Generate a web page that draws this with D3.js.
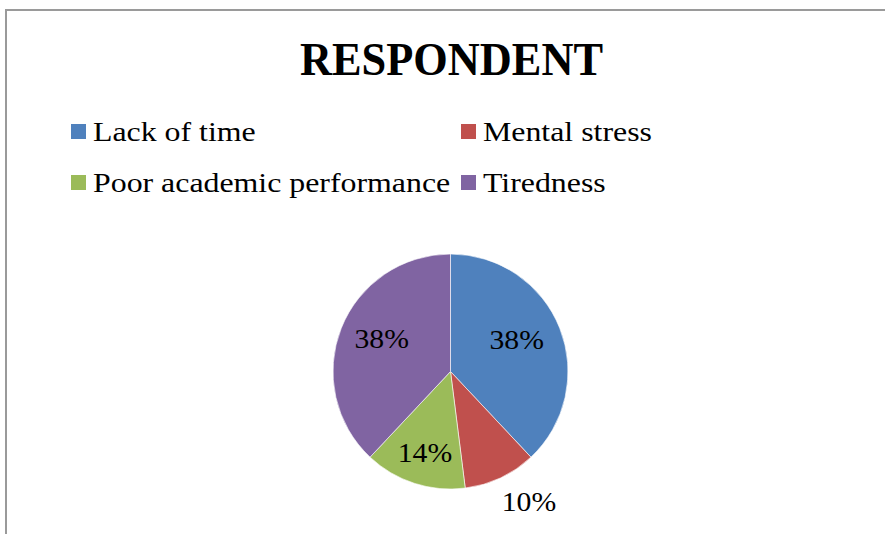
<!DOCTYPE html>
<html>
<head>
<meta charset="utf-8">
<script src="https://cdn.jsdelivr.net/npm/d3@7"></script>
<style>
  body { margin: 0; background: #fff; }
  svg { display: block; }
  text { font-family: "Liberation Serif", "Times New Roman", serif; fill: #000; }
</style>
</head>
<body>
<div id="chart"></div>
<script>
// data
const categories = ["Lack of time", "Mental stress", "Poor academic performance", "Tiredness"];
const values = [38, 10, 14, 38];
const colors = ["#4F81BD", "#C0504D", "#9BBB59", "#8064A2"];

const width = 885;
const height = 534;

const svg = d3.select("#chart")
  .append("svg")
  .attr("width", width)
  .attr("height", height);

// chart border (runs off the right/bottom edge)
svg.append("rect")
  .attr("x", 6)
  .attr("y", 10)
  .attr("width", width + 20)
  .attr("height", height + 20)
  .attr("fill", "none")
  .attr("stroke", "#9a9a9a")
  .attr("stroke-width", 2);

// title
svg.append("text")
  .attr("x", 451.5)
  .attr("y", 75)
  .attr("text-anchor", "middle")
  .attr("font-size", "46px")
  .attr("font-weight", "bold")
  .attr("textLength", 303)
  .attr("lengthAdjust", "spacingAndGlyphs")
  .text("RESPONDENT");

// legend, 2 columns x 2 rows
const legendX = d3.scaleOrdinal().domain([0, 1]).range([71, 461]);
const legendY = d3.scaleOrdinal().domain([0, 1]).range([124, 175]);

const legend = svg.selectAll(".legend-item")
  .data(categories)
  .enter()
  .append("g")
  .attr("class", "legend-item")
  .attr("transform", (d, i) => `translate(${legendX(i % 2)},${legendY(Math.floor(i / 2))})`);

legend.append("rect")
  .attr("width", 15)
  .attr("height", 15)
  .attr("fill", (d, i) => colors[i]);

// the original font is wider than Liberation Serif, stretch it a bit
legend.append("text")
  .attr("transform", "translate(22,17) scale(1.18,1)")
  .attr("font-size", "27px")
  .text((d) => d);

// pie
const cx = 450.5, cy = 371.5, radius = 117.5;
const pie = d3.pie().sort(null).value((d) => d);
const arcs = pie(values);
const arc = d3.arc().innerRadius(0).outerRadius(radius);

const g = svg.append("g").attr("transform", `translate(${cx},${cy})`);

g.selectAll("path")
  .data(arcs)
  .enter()
  .append("path")
  .attr("d", arc)
  .attr("fill", (d, i) => colors[i])
  .attr("stroke", "#fff")
  .attr("stroke-width", 0.6);

// data labels (the small red slice has its label dragged outside)
const labelRadius = [0.627, 1.296, 0.72, 0.648];
const labelTurn = [-4.5, -5.8, -0.4, 3.7]; // degrees off the slice middle
const total = d3.sum(values);

g.selectAll(".slice-label")
  .data(arcs)
  .enter()
  .append("text")
  .attr("class", "slice-label")
  .attr("transform", (d, i) => {
    const a = (d.startAngle + d.endAngle) / 2 + labelTurn[i] * Math.PI / 180;
    const r = radius * labelRadius[i];
    return `translate(${Math.sin(a) * r},${-Math.cos(a) * r}) scale(1.1,1)`;
  })
  .attr("text-anchor", "middle")
  .attr("dy", "0.35em")
  .attr("font-size", "27px")
  .text((d) => Math.round(d.data / total * 100) + "%");
</script>
</body>
</html>
